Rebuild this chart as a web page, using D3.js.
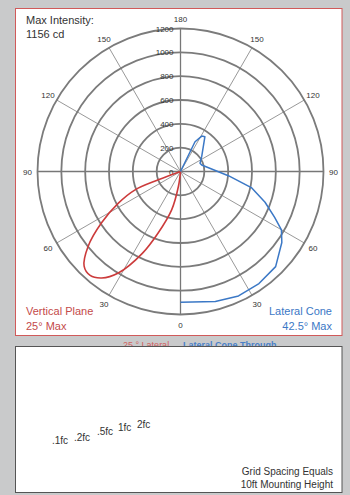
<!DOCTYPE html>
<html>
<head>
<meta charset="utf-8">
<script src="https://cdn.jsdelivr.net/npm/d3@7"></script>
<style>
  html, body { margin: 0; padding: 0; background: #c9cacb; }
  svg { display: block; font-family: "Liberation Sans", Arial, sans-serif; }
</style>
</head>
<body>
<div id="chart"></div>
<script>
'use strict';

// candela rings and angle ticks
var ringValues = [200, 400, 600, 800, 1000, 1200];
var ringLabels = ['0', '200', '400', '600', '800', '1000', '1200'];
var angleTicks = [0, 30, 60, 90, 120, 150, 180];

// vertical plane (drawn on the left half), degrees from nadir
var vertAngles = [0, 8, 13, 20, 25, 31.5, 36.5, 41, 45.5, 51, 57, 63, 68, 69.5, 75];
var vertValues = [0, 127, 330, 549, 758, 999, 1112, 1156, 1134, 997, 790, 585, 411, 199, 0];

// lateral cone (drawn on the right half)
var latAngles = [0, 15, 25, 35, 45, 55, 60, 64, 70, 77, 85, 107, 113, 125, 145, 149, 154, 160];
var latValues = [1098, 1130, 1152, 1148, 1129, 1038, 978, 879, 755, 614, 403, 186, 178, 217, 357, 347, 278, 0];

var W = 350, H = 495;
var cx = 180.5, cy = 171.5, R = 143;

var svg = d3.select('#chart').append('svg')
  .attr('width', W).attr('height', H);

svg.append('rect').attr('width', W).attr('height', H).attr('fill', '#c9cacb');

// top panel
svg.append('rect')
  .attr('x', 15.5).attr('y', 8.5).attr('width', 326.5).attr('height', 327)
  .attr('fill', '#fff').attr('stroke', '#d05a5a').attr('stroke-width', 1);

var rScale = d3.scaleLinear().domain([0, 1200]).range([0, R]);
var toRad = function (deg) { return deg * Math.PI / 180; };

var g = svg.append('g').attr('transform', 'translate(' + cx + ',' + cy + ')');

// radial spokes every 30 degrees on both sides
var spokes = [];
angleTicks.forEach(function (a) {
  spokes.push(Math.PI - toRad(a));
  if (a > 0 && a < 180) spokes.push(Math.PI + toRad(a));
});
g.selectAll('line.spoke').data(spokes).enter().append('line')
  .attr('class', 'spoke')
  .attr('x1', 0).attr('y1', 0)
  .attr('x2', function (a) { return R * Math.sin(a); })
  .attr('y2', function (a) { return -R * Math.cos(a); })
  .attr('stroke', function (a) {
    var d = Math.round(a * 180 / Math.PI) % 90;
    return d === 0 ? '#777' : '#999';
  })
  .attr('stroke-width', function (a) {
    var d = Math.round(a * 180 / Math.PI) % 90;
    return d === 0 ? 1.3 : 1;
  });

// rings
g.selectAll('circle.ring').data(ringValues).enter().append('circle')
  .attr('class', 'ring')
  .attr('r', function (d) { return rScale(d); })
  .attr('fill', 'none').attr('stroke', '#7b7b7b').attr('stroke-width', 1.8);

// ring labels along the top spoke
g.selectAll('text.rlab').data(ringLabels).enter().append('text')
  .attr('class', 'rlab')
  .attr('x', -7)
  .attr('y', function (d) { return -rScale(+d) + 3; })
  .attr('text-anchor', 'end')
  .attr('font-size', 8).attr('fill', '#333')
  .text(function (d) { return d; });

// angle labels
var angLabels = [];
angleTicks.forEach(function (a) {
  angLabels.push({ a: Math.PI - toRad(a), t: a });
  if (a > 0 && a < 180) angLabels.push({ a: Math.PI + toRad(a), t: a });
});
g.selectAll('text.alab').data(angLabels).enter().append('text')
  .attr('class', 'alab')
  .attr('x', function (d) { return 153 * Math.sin(d.a); })
  .attr('y', function (d) { return -153 * Math.cos(d.a) + 3; })
  .attr('text-anchor', 'middle')
  .attr('font-size', 8).attr('fill', '#333')
  .text(function (d) { return d.t; });

// vertical plane curve (left side)
var vertData = vertAngles.map(function (a, i) { return [a, vertValues[i]]; });
var vertLine = d3.lineRadial()
  .angle(function (d) { return Math.PI + toRad(d[0]); })
  .radius(function (d) { return rScale(d[1]); })
  .curve(d3.curveCatmullRom.alpha(0.5));
g.append('path').datum(vertData)
  .attr('d', vertLine)
  .attr('fill', 'none').attr('stroke', '#cc3b3b').attr('stroke-width', 1.6);

// lateral cone curve (right side)
var latData = latAngles.map(function (a, i) { return [a, latValues[i]]; });
var latLine = d3.lineRadial()
  .angle(function (d) { return Math.PI - toRad(d[0]); })
  .radius(function (d) { return rScale(d[1]); });
g.append('path').datum(latData)
  .attr('d', latLine)
  .attr('fill', 'none').attr('stroke', '#3b78c6').attr('stroke-width', 1.5)
  .attr('stroke-linejoin', 'round');

// panel texts
svg.append('text').attr('x', 26).attr('y', 24).attr('font-size', 11).attr('fill', '#333').text('Max Intensity:');
svg.append('text').attr('x', 26).attr('y', 38).attr('font-size', 11).attr('fill', '#333').text('1156 cd');

svg.append('text').attr('x', 26).attr('y', 315).attr('font-size', 11).attr('fill', '#c44a4a').text('Vertical Plane');
svg.append('text').attr('x', 26).attr('y', 330).attr('font-size', 11).attr('fill', '#c44a4a').text('25° Max');
svg.append('text').attr('x', 332).attr('y', 315).attr('font-size', 11).attr('fill', '#3b78c6')
  .attr('text-anchor', 'end').text('Lateral Cone');
svg.append('text').attr('x', 332).attr('y', 330).attr('font-size', 11).attr('fill', '#3b78c6')
  .attr('text-anchor', 'end').text('42.5° Max');

// legend, partly hidden under the lower panel
svg.append('text').attr('x', 123).attr('y', 348).attr('font-size', 9).attr('fill', '#d06060').text('25 ° Lateral');
svg.append('text').attr('x', 183).attr('y', 348).attr('font-size', 9).attr('font-weight', 'bold')
  .attr('fill', '#4a80c8').text('Lateral Cone Through');

// lower panel
svg.append('rect')
  .attr('x', 15.5).attr('y', 346.5).attr('width', 326.5).attr('height', 146)
  .attr('fill', '#fff').attr('stroke', '#555').attr('stroke-width', 1);

var fcLabels = ['.1fc', '.2fc', '.5fc', '1fc', '2fc'];
var fcX = [52, 74, 97, 118, 137];
var fcY = [444, 441, 435, 431, 428];
svg.selectAll('text.fc').data(fcLabels).enter().append('text')
  .attr('class', 'fc')
  .attr('x', function (d, i) { return fcX[i]; })
  .attr('y', function (d, i) { return fcY[i]; })
  .attr('font-size', 10).attr('fill', '#333')
  .text(function (d) { return d; });

svg.append('text').attr('x', 333).attr('y', 475).attr('font-size', 10).attr('fill', '#333')
  .attr('text-anchor', 'end').text('Grid Spacing Equals');
svg.append('text').attr('x', 333).attr('y', 488).attr('font-size', 10).attr('fill', '#333')
  .attr('text-anchor', 'end').text('10ft Mounting Height');
</script>
</body>
</html>
